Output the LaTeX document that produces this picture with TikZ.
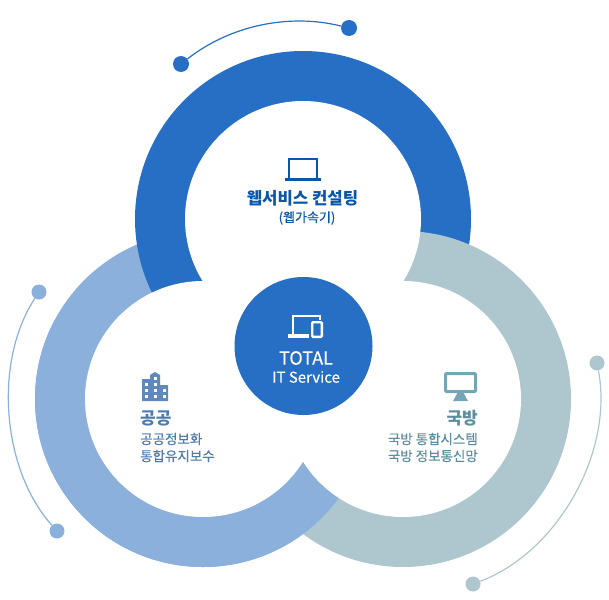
\documentclass[tikz,border=0pt]{standalone}
\usepackage{fontspec}
\setmainfont{Noto Sans CJK KR}
\newfontfamily\medfont[FakeBold=0.25]{Noto Sans CJK KR}
\usetikzlibrary{positioning}
\definecolor{topblue}{HTML}{276FC4}
\definecolor{leftblue}{HTML}{8BB0DC}
\definecolor{rightgray}{HTML}{AEC7CE}
\definecolor{titleblue}{HTML}{0B56A8}
\definecolor{leftink}{HTML}{4F7BAF}
\definecolor{rightink}{HTML}{5B8E9E}
\definecolor{buildcol}{HTML}{5F88BC}
\definecolor{screencol}{HTML}{76A5B5}

\begin{document}
\begin{tikzpicture}[
        x=1pt, y=-1pt,
        dot/.style={circle, inner sep=0pt, minimum size=#1},
        arcline/.style={line width=1.2pt, looseness=#1},
        head/.style={font=\fontsize{17}{17}\selectfont\bfseries, inner sep=0pt},
        body/.style={font=\fontsize{13.5}{13.5}\medfont, inner sep=0pt}
    ]
    \useasboundingbox (0,0) rectangle (609,599);

    % three rings
    \fill[leftblue] (203,399) circle (168);
    \fill[topblue] (303,219) circle (168);
    \fill[rightgray] (403,399) circle (168);
    \begin{scope}
        \clip (0,320) rectangle (609,599);
        \fill[leftblue] (203,399) circle (168);
    \end{scope}
    \fill[white] (303,219) circle (118);
    \fill[white] (203,399) circle (118);
    \fill[white] (403,399) circle (118);

    % centre
    \node[dot=138pt, fill=topblue] (hub) at (303.5,346) {};

    % outer dots and arcs
    \node[dot=16pt, fill=topblue] (topA) at (181,64) {};
    \node[dot=16pt, fill=topblue] (topB) at (349,28) {};
    \node[dot=15pt, fill=leftblue] (leftA) at (39,292) {};
    \node[dot=15pt, fill=leftblue] (leftB) at (57,531) {};
    \node[dot=15pt, fill=rightgray] (rightA) at (597,363) {};
    \node[dot=15pt, fill=rightgray] (rightB) at (473,584) {};
    \draw[topblue, arcline=0.88] (topA) to[bend left=26] (topB);
    \draw[leftblue, arcline=0.85] (leftA) to[bend right=37.5] (leftB);
    \draw[rightgray, arcline=0.88] (rightA) to[bend left=40] (rightB);

    % laptop
    \draw[titleblue, line width=2pt] (289,179) -- (289,159) -- (317,159) -- (317,179);
    \draw[titleblue, line width=2.5pt] (285,179.5) -- (321,179.5);

    % hub icon
    \draw[white, line width=2pt] (293,334) -- (293,316) -- (320,316) -- (320,320);
    \draw[white, line width=4pt] (288,336) -- (309,336);
    \draw[white, line width=2.4pt, rounded corners=1pt] (312.2,322.2) rectangle (321.8,336.8);

    % building
    \fill[buildcol] (142,379) -- (150,379) -- (150,375) -- (155,372) -- (160,375)
        -- (160,385) -- (168,385) -- (168,401) -- (142,401) -- cycle;
    \foreach \wx/\wy in {154/377,145/383,154/383,145/389,154/389,163/389,145/395,154/395,163/395}
        \fill[white] (\wx,\wy) rectangle ++(2.6,2.6);

    % monitor
    \draw[screencol, line width=3pt, rounded corners=1pt] (445.5,373.5) rectangle (475.5,391.5);
    \fill[screencol] (458,392) -- (463,392) -- (468,401) -- (453,401) -- cycle;

    % labels
    \node[inner sep=0pt, font=\fontsize{16.7}{16}\selectfont\bfseries, text=titleblue] (webTitle) at (302.5,198) {웹서비스 컨설팅};
    \node[inner sep=0pt, font=\fontsize{13}{13}\medfont, text=titleblue] (webSub) at (307,218) {(웹가속기)};
    \node[inner sep=0pt, font=\fontsize{18}{18}\medfont, text=white] (hubTitle) at (306,358) {TOTAL};
    \node[inner sep=0pt, font=\fontsize{15}{15}\medfont, text=white] (hubSub) at (306,377) {IT Service};

    \node[head, text=leftink, anchor=west] (pubTitle) at (140,418) {공공};
    \node[body, text=leftink, anchor=west] (pubA) at (140,439) {공공정보화};
    \node[body, text=leftink, anchor=west] (pubB) at (140,456) {통합유지보수};

    \node[head, text=rightink, anchor=east] (defTitle) at (478,418) {국방};
    \node[body, text=rightink, anchor=east] (defA) at (478,439) {국방 통합시스템};
    \node[body, text=rightink, anchor=east] (defB) at (478,456) {국방 정보통신망};
\end{tikzpicture}
\end{document}
